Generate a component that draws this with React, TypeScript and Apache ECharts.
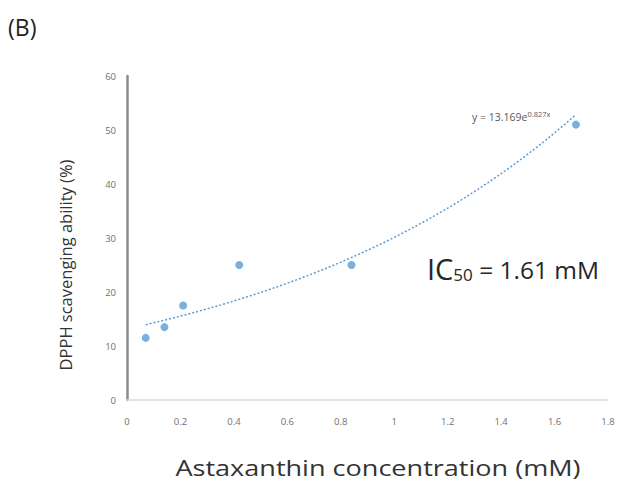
import React, { useEffect, useRef } from "react";
import * as echarts from "echarts";

// Astaxanthin concentration (mM) and DPPH scavenging ability (%)
const concentrations = [0.07, 0.14, 0.21, 0.42, 0.84, 1.68];
const scavenging = [11.5, 13.5, 17.5, 25, 25, 51];

// Exponential trendline y = a * e^(b x)
const trendA = 13.169;
const trendB = 0.827;
const trendSteps = 40;

const xTicks = ["0", "0.2", "0.4", "0.6", "0.8", "1", "1.2", "1.4", "1.6", "1.8"];
const yTicks = ["0", "10", "20", "30", "40", "50", "60"];

const panelLabel = "(B)";
const xTitle = "Astaxanthin concentration (mM)";
const yTitle = "DPPH scavenging ability (%)";

export default function App() {
  const ref = useRef<HTMLDivElement>(null);

  useEffect(() => {
    if (!ref.current) return;
    const chart = echarts.init(ref.current, null, { renderer: "svg" });

    const x0 = concentrations[0];
    const x1 = concentrations[concentrations.length - 1];
    const trend: number[][] = [];
    for (let i = 0; i <= trendSteps; i++) {
      const x = x0 + ((x1 - x0) * i) / trendSteps;
      trend.push([x, trendA * Math.exp(trendB * x)]);
    }

    const font = "'Open Sans', sans-serif";

    chart.setOption({
      animation: false,
      backgroundColor: "#ffffff",
      grid: { left: 127, right: 13, top: 76, bottom: 88, outerBoundsMode: "none" },
      xAxis: {
        type: "value",
        min: 0,
        max: 1.8,
        interval: 0.2,
        axisLine: { show: true, lineStyle: { color: "#d9d9d9", width: 1.5 } },
        axisTick: { show: false },
        splitLine: { show: false },
        axisLabel: {
          color: "#6f6f6f",
          fontSize: 9.5,
          fontFamily: font,
          margin: 16,
          showMaxLabel: true,
          hideOverlap: false,
          formatter: (v: number) => xTicks[Math.round(v / 0.2)] ?? "",
        },
      },
      yAxis: {
        type: "value",
        min: 0,
        max: 60,
        interval: 10,
        axisLine: { show: true, lineStyle: { color: "#8c8c8c", width: 2.5 } },
        axisTick: { show: false },
        splitLine: { show: false },
        axisLabel: {
          color: "#6f6f6f",
          fontSize: 9.5,
          fontFamily: font,
          margin: 11,
          formatter: (v: number) => yTicks[Math.round(v / 10)] ?? "",
        },
      },
      series: [
        {
          type: "line",
          data: trend,
          showSymbol: false,
          symbol: "none",
          smooth: false,
          lineStyle: { color: "#5b9bd5", width: 1.5, type: [2, 2] },
          z: 1,
        },
        {
          type: "scatter",
          data: concentrations.map((c, i) => [c, scavenging[i]]),
          symbolSize: 8,
          itemStyle: { color: "#5b9bd5" },
          z: 2,
        },
      ],
      graphic: [
        {
          type: "text",
          left: 8,
          top: 15,
          style: { text: panelLabel, font: `23px ${font}`, fill: "#222222" },
        },
        {
          type: "text",
          x: 65,
          y: 265,
          rotation: Math.PI / 2,
          style: {
            text: yTitle,
            font: `16.5px ${font}`,
            fill: "#333333",
            align: "center",
            verticalAlign: "middle",
          },
        },
        {
          type: "text",
          x: 378,
          y: 468,
          scaleX: 1.23,
          style: {
            text: xTitle,
            font: `22px ${font}`,
            fill: "#333333",
            align: "center",
            verticalAlign: "middle",
          },
        },
        {
          type: "text",
          x: 472,
          y: 116,
          style: {
            text: "{b|y = 13.169e}{s|0.827x}",
            fill: "#595959",
            verticalAlign: "middle",
            rich: {
              b: { fontSize: 10.5, fontFamily: font, fill: "#595959", verticalAlign: "bottom" },
              s: { fontSize: 7.5, fontFamily: font, fill: "#595959", verticalAlign: "top", padding: [0, 0, 5, 0] },
            },
          },
        },
        {
          type: "text",
          x: 427,
          y: 268,
          style: {
            text: "{ic|IC}{sub|50}{rest| = 1.61 mM}",
            verticalAlign: "middle",
            rich: {
              ic: { fontSize: 29, fontFamily: font, fill: "#262626", verticalAlign: "middle" },
              sub: { fontSize: 17, fontFamily: font, fill: "#262626", padding: [13, 0, 0, 0] },
              rest: { fontSize: 24.5, fontFamily: font, fill: "#262626", padding: [2, 0, 0, 0] },
            },
          },
        },
      ],
    });

    return () => chart.dispose();
  }, []);

  return (
    <div style={{ position: "fixed", left: 0, top: 0, width: 621, height: 488 }}>
      <div ref={ref} style={{ width: 621, height: 488 }} />
    </div>
  );
}
